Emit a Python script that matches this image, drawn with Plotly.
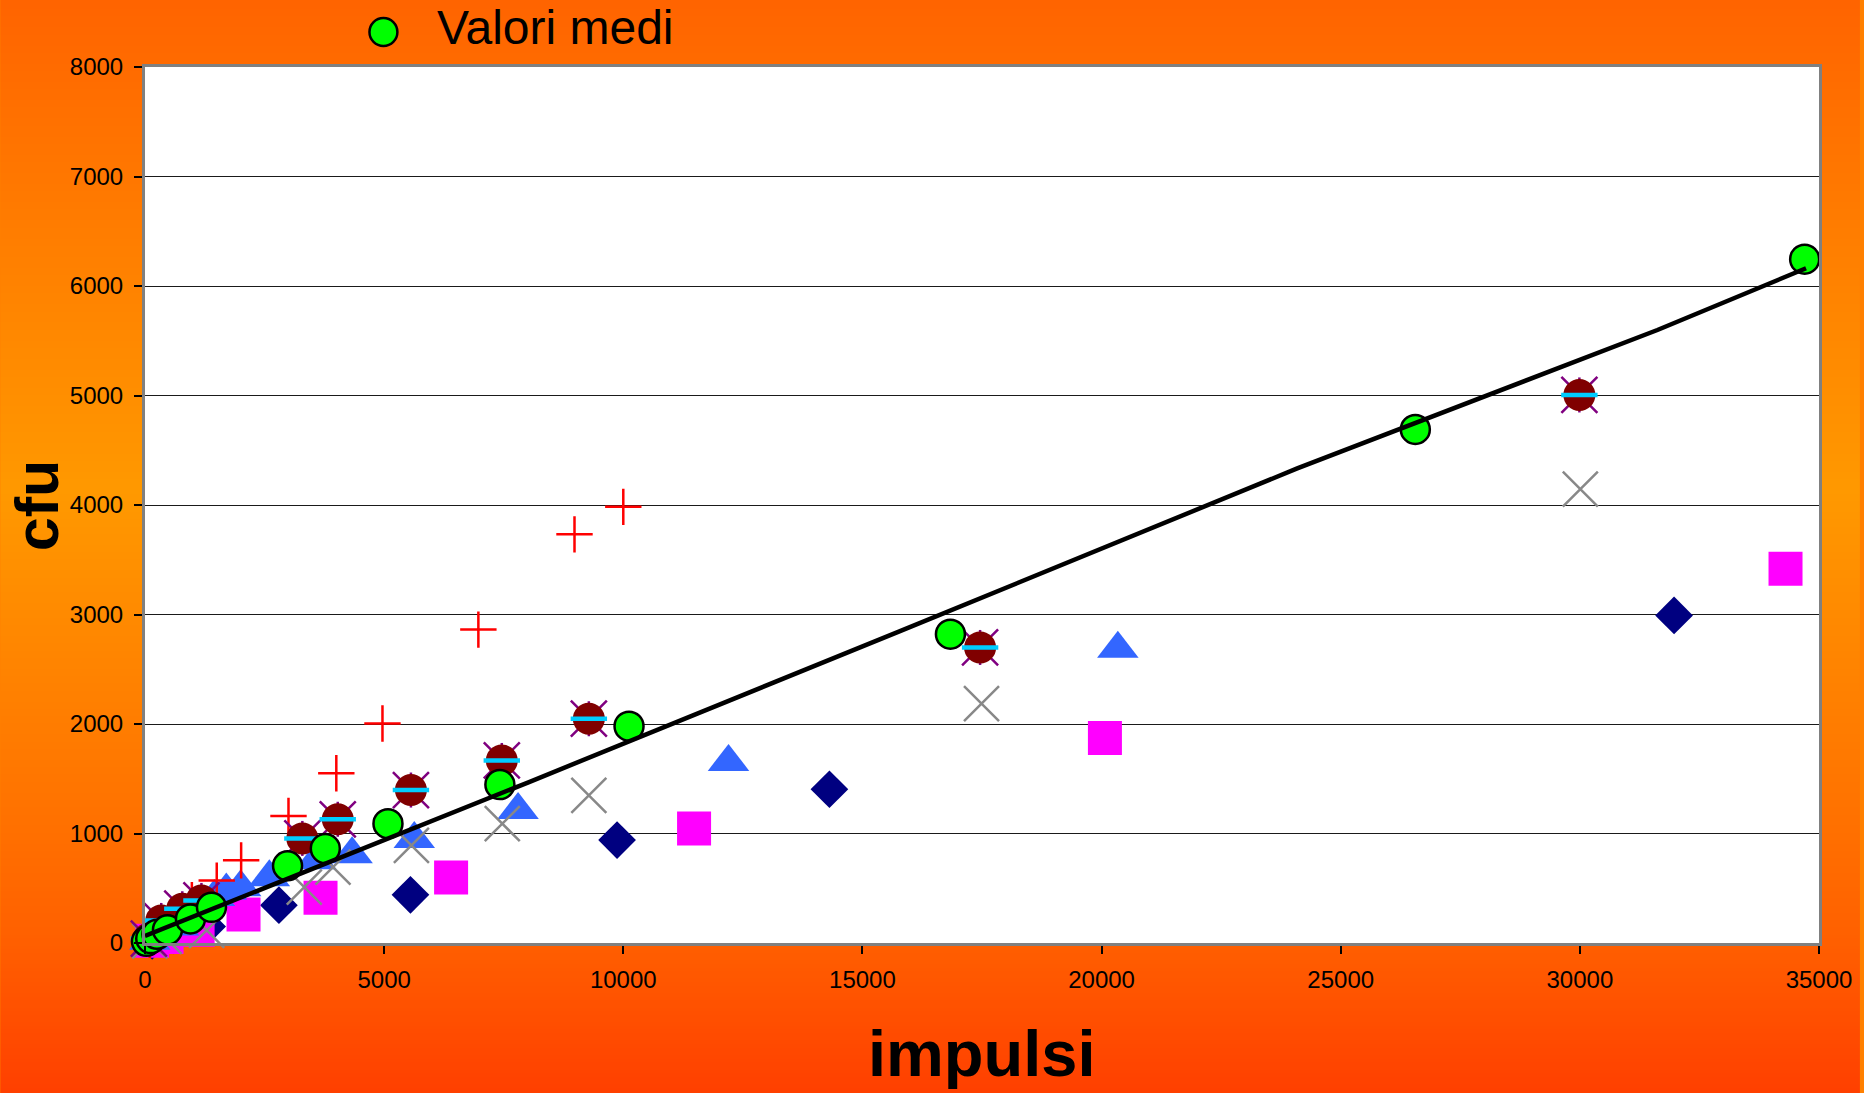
import base64
import struct
import zlib

import plotly.graph_objects as go

# ---------------- data ----------------
diamond_x = [150, 600, 1300, 2800, 5550, 9870, 14310, 31970]
diamond_y = [20, 70, 150, 345, 440, 940, 1404, 2992]

square_x = [150, 450, 1100, 2060, 3670, 6400, 11480, 20070, 34300]
square_y = [20, 55, 120, 261, 413, 598, 1045, 1872, 3417]

triangle_x = [100, 300, 700, 1450, 1700, 2000, 2600, 3570, 4330, 5630, 7800, 12200, 20340]
triangle_y = [20, 60, 150, 420, 480, 510, 600, 755, 810, 950, 1215, 1654, 2688]

xmark_x = [100, 400, 1290, 3330, 3930, 5570, 7470, 9280, 17490, 30010]
xmark_y = [20, 60, 115, 511, 694, 892, 1090, 1349, 2187, 4146]

plus_x = [100, 400, 980, 1500, 2010, 3000, 4000, 4965, 6970, 8980, 10000]
plus_y = [30, 150, 390, 570, 755, 1160, 1550, 2005, 2862, 3732, 3983]

maroon_x = [80, 340, 780, 1180, 3290, 4030, 5560, 7460, 9280, 17460, 29990]
maroon_y = [40, 206, 313, 389, 955, 1130, 1397, 1667, 2048, 2699, 5005]

medi_x = [30, 120, 250, 470, 950, 1390, 2980, 3770, 5080, 7420, 10120, 16840, 26560, 34700]
medi_y = [15, 40, 80, 120, 220, 326, 705, 862, 1090, 1447, 1980, 2820, 4690, 6245]

trend_x = [0, 8030, 15748, 24091, 31621, 34729]
trend_y = [65, 1470, 2841, 4334, 5598, 6162]

x_ticks = [0, 5000, 10000, 15000, 20000, 25000, 30000, 35000]
y_ticks = [0, 1000, 2000, 3000, 4000, 5000, 6000, 7000, 8000]

legend_label = "Valori medi"
x_title = "impulsi"
y_title = "cfu"

# ---------------- background gradient image ----------------
W, H = 1864, 1093
ML, MR, MT, MB = 145, 41, 67, 150
PW, PH = W - ML - MR, H - MT - MB

stops = [(0.0, (255, 100, 0)), (0.10, (255, 112, 0)), (0.45, (255, 153, 0)),
         (0.76, (255, 112, 0)), (0.86, (255, 96, 0)), (1.0, (255, 64, 0))]


def grad(t):
    for (t0, c0), (t1, c1) in zip(stops[:-1], stops[1:]):
        if t0 <= t <= t1:
            f = (t - t0) / (t1 - t0)
            return tuple(int(round(a + (b - a) * f)) for a, b in zip(c0, c1))
    return stops[-1][1]


def make_png(rows, width=4):
    raw = b"".join(b"\x00" + bytes(c) * width for c in rows)

    def chunk(t, d):
        return struct.pack(">I", len(d)) + t + d + struct.pack(">I", zlib.crc32(t + d) & 0xFFFFFFFF)

    ihdr = struct.pack(">IIBBBBB", width, len(rows), 8, 2, 0, 0, 0)
    return b"\x89PNG\r\n\x1a\n" + chunk(b"IHDR", ihdr) + chunk(b"IDAT", zlib.compress(raw)) + chunk(b"IEND", b"")


rows = [grad(i / 299) for i in range(300)]
bg_src = "data:image/png;base64," + base64.b64encode(make_png(rows)).decode()


def px_x(p):
    return (p - ML) / PW


def px_y(p):
    return (H - MB - p) / PH


FONT = "Liberation Sans, Arial, sans-serif"

# ---------------- figure ----------------
fig = go.Figure()

fig.add_trace(go.Scatter(x=diamond_x, y=diamond_y, mode="markers", showlegend=False, cliponaxis=False,
                         marker=dict(symbol="diamond", size=29, color="#000080", line=dict(width=0))))
fig.add_trace(go.Scatter(x=square_x, y=square_y, mode="markers", showlegend=False, cliponaxis=False,
                         marker=dict(symbol="square", size=34, color="#FF00FF", line=dict(width=0))))
fig.add_trace(go.Scatter(x=triangle_x, y=triangle_y, mode="markers", showlegend=False, cliponaxis=False,
                         marker=dict(symbol="triangle-up", size=36, color="#3366FF", line=dict(width=0))))
fig.add_trace(go.Scatter(x=xmark_x, y=xmark_y, mode="markers", showlegend=False, cliponaxis=False,
                         marker=dict(symbol="x-thin", size=35, color="#888888",
                                     line=dict(width=2.5, color="#888888"))))
fig.add_trace(go.Scatter(x=plus_x, y=plus_y, mode="markers", showlegend=False, cliponaxis=False,
                         marker=dict(symbol="cross-thin", size=26, color="#FF0000",
                                     line=dict(width=2.5, color="#FF0000"))))
# purple star (x + vertical line)
fig.add_trace(go.Scatter(x=maroon_x, y=maroon_y, mode="markers", showlegend=False, cliponaxis=False,
                         marker=dict(symbol="x-thin", size=36, color="#800080",
                                     line=dict(width=2.5, color="#800080"))))
fig.add_trace(go.Scatter(x=maroon_x, y=maroon_y, mode="markers", showlegend=False, cliponaxis=False,
                         marker=dict(symbol="line-ns", size=25, color="#800080",
                                     line=dict(width=2.5, color="#800080"))))
fig.add_trace(go.Scatter(x=maroon_x, y=maroon_y, mode="markers", showlegend=False, cliponaxis=False,
                         marker=dict(symbol="circle", size=32, color="#800000", line=dict(width=0))))
fig.add_trace(go.Scatter(x=maroon_x, y=maroon_y, mode="markers", showlegend=False, cliponaxis=False,
                         marker=dict(symbol="line-ew", size=26, color="#00CCFF",
                                     line=dict(width=4.5, color="#00CCFF"))))
fig.add_trace(go.Scatter(x=medi_x, y=medi_y, mode="markers", name=legend_label, showlegend=False,
                         cliponaxis=False,
                         marker=dict(symbol="circle", size=29, color="#00FF00",
                                     line=dict(width=2.5, color="#000000"))))
fig.add_trace(go.Scatter(x=trend_x, y=trend_y, mode="lines", showlegend=False, cliponaxis=False,
                         line=dict(color="#000000", width=4.5)))

axis_common = dict(
    showline=True, linecolor="#808080", linewidth=3, mirror=True,
    ticks="outside", ticklen=8, tickwidth=1.5, tickcolor="#000000",
    zeroline=False, tickformat="d",
    tickfont=dict(family=FONT, size=24, color="#000000"),
)

fig.update_xaxes(range=[0, 35000], tickvals=x_ticks, showgrid=False, ticklabelstandoff=5, **axis_common)
fig.update_yaxes(range=[0, 8000], tickvals=y_ticks, showgrid=True, gridcolor="#1a1a1a", gridwidth=1,
                 ticklabelstandoff=6, **axis_common)

fig.update_layout(
    width=W, height=H,
    margin=dict(l=ML, r=MR, t=MT, b=MB, pad=0),
    paper_bgcolor="#FF8000",
    plot_bgcolor="#FFFFFF",
    showlegend=False,
    images=[dict(source=bg_src, xref="paper", yref="paper", x=px_x(0), y=px_y(0),
                 sizex=W / PW, sizey=H / PH, sizing="stretch", xanchor="left", yanchor="top",
                 layer="below")],
    shapes=[
        dict(type="rect", xref="paper", yref="paper", x0=0, x1=1, y0=0, y1=1,
             fillcolor="#FFFFFF", line=dict(width=0), layer="below"),
        dict(type="circle", xref="paper", yref="paper",
             x0=px_x(370), x1=px_x(398), y0=px_y(46), y1=px_y(18),
             fillcolor="#00FF00", line=dict(color="#000000", width=2.5)),
    ],
    annotations=[
        dict(text=legend_label, xref="paper", yref="paper", x=px_x(436), y=px_y(28),
             xanchor="left", yanchor="middle", showarrow=False,
             font=dict(family=FONT, size=48, color="#000000")),
        dict(text="<b>" + y_title + "</b>", xref="paper", yref="paper", x=px_x(37), y=px_y(505),
             xanchor="center", yanchor="middle", textangle=-90, showarrow=False,
             font=dict(family=FONT, size=61, color="#000000")),
        dict(text="<b>" + x_title + "</b>", xref="paper", yref="paper", x=px_x(984), y=px_y(1091),
             xanchor="center", yanchor="bottom", showarrow=False, borderpad=0,
             font=dict(family=FONT, size=65, color="#000000")),
    ],
)

fig.write_html("out.html", config={"displayModeBar": False},
               post_script="document.body.style.margin='0';document.body.style.overflow='hidden';")
